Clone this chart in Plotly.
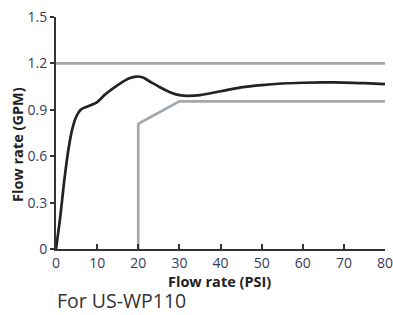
import plotly.graph_objects as go

# Data
curve_psi = [0, 1, 2, 3, 4, 5, 6, 7, 8, 10, 12, 15, 18, 19.5, 21, 23, 25, 28, 30, 32, 35, 40, 45, 50, 55, 60, 65, 70, 75, 80]
curve_gpm = [0, 0.2, 0.44, 0.64, 0.78, 0.86, 0.9, 0.915, 0.925, 0.95, 1.0, 1.06, 1.105, 1.115, 1.11, 1.08, 1.05, 1.01, 0.995, 0.99, 0.995, 1.02, 1.045, 1.06, 1.07, 1.075, 1.077, 1.076, 1.072, 1.066]

max_psi = [0, 80]
max_gpm = [1.2, 1.2]

min_psi = [20, 20, 30, 80]
min_gpm = [0, 0.81, 0.955, 0.955]

x_ticks = [0, 10, 20, 30, 40, 50, 60, 70, 80]
y_ticks = [0, 0.3, 0.6, 0.9, 1.2, 1.5]
y_tick_labels = ["0", "0.3", "0.6", "0.9", "1.2", "1.5"]

gray = "#a3a7ae"
fig = go.Figure()
fig.add_trace(go.Scatter(x=max_psi, y=max_gpm, mode="lines",
                         line=dict(color=gray, width=2.7), hoverinfo="skip"))
fig.add_trace(go.Scatter(x=min_psi, y=min_gpm, mode="lines",
                         line=dict(color=gray, width=2.7), hoverinfo="skip"))
fig.add_trace(go.Scatter(x=curve_psi, y=curve_gpm, mode="lines",
                         line=dict(color="#222222", width=2.7, shape="spline", smoothing=0.8),
                         hoverinfo="skip"))

font_family = "Open Sans, Noto Sans, sans-serif"
W, H = 393, 315
# plot area in page pixels
L, Rx, T, Bx = 56, 385, 17, 249
R = W - Rx
B = H - Bx
pw = Rx - L
ph = Bx - T


def xp(page_x):
    return (page_x - L) / pw


def yp(page_y):
    return (Bx - page_y) / ph


tick_font = dict(size=14, color="#3a3a58")
fig.update_layout(
    width=W, height=H,
    margin=dict(l=L, r=R, t=T, b=B, autoexpand=False),
    paper_bgcolor="white", plot_bgcolor="white",
    showlegend=False,
    font=dict(family=font_family, color="#3a3a4a", size=13),
    xaxis=dict(range=[0, 80], tickvals=x_ticks, ticks="inside", ticklen=5,
               tickwidth=1.5, tickcolor="#333", showline=True, linecolor="#333",
               linewidth=2, showgrid=False, zeroline=False,
               ticklabeloverflow="allow", tickfont=tick_font),
    yaxis=dict(range=[0, 1.5], tickvals=y_ticks, ticktext=y_tick_labels,
               ticks="outside", ticklen=4, tickwidth=1.5, tickcolor="#333",
               showline=True, linecolor="#333", linewidth=2, showgrid=False,
               zeroline=False, ticklabeloverflow="allow", tickfont=tick_font),
    annotations=[
        dict(text="<b>Flow rate (GPM)</b>", xref="paper", yref="paper",
             x=xp(17), y=yp(145), textangle=-90, xanchor="center", yanchor="middle",
             showarrow=False, font=dict(size=14.5, color="#222")),
        dict(text="<b>Flow rate (PSI)</b>", xref="paper", yref="paper",
             x=xp(219), y=yp(281), xanchor="center",
             yanchor="middle", showarrow=False, font=dict(size=14.5, color="#222")),
        dict(text="For US-WP110", xref="paper", yref="paper",
             x=xp(55), y=yp(300), xanchor="left",
             yanchor="middle", showarrow=False, font=dict(size=19.5, color="#333")),
    ],
)

fig.write_html(
    "out.html",
    config={"displayModeBar": False},
    post_script="document.body.style.margin='0';document.body.style.overflow='hidden';",
)
